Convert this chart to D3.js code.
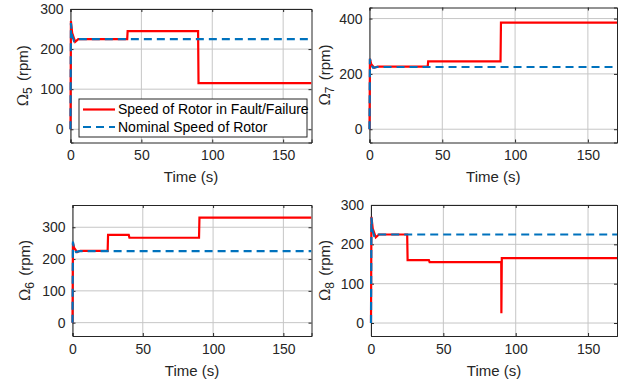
<!DOCTYPE html>
<html>
<head>
<meta charset="utf-8">
<script src="https://cdn.jsdelivr.net/npm/d3@7"></script>
<style>
  body { margin: 0; background: #fff; }
  svg { display: block; font-family: "Liberation Sans", Arial, Helvetica, sans-serif; }
</style>
</head>
<body>
<svg id="chart" width="624" height="386"></svg>
<script>
// ---------------- data ----------------
const timeTicks = [0, 50, 100, 150];
const timeDomain = [0, 170];

const ticks5 = [0, 100, 200, 300];
const ticks7 = [0, 200, 400];
const ticks6 = [0, 100, 200, 300];
const ticks8 = [0, 100, 200, 300];

const nominalTime = [0, 0.3, 1.0, 2.5, 5, 170];
const nominal5 = [0, 265, 235, 220, 225, 225];
const nominal7 = [0, 255, 232, 222, 225, 225];
const nominal6 = [0, 255, 232, 222, 225, 225];
const nominal8 = [0, 268, 235, 218, 225, 225];

const faultTime5 = [0, 0.3, 1.2, 3.3, 5.5, 40, 40.3, 90, 90.3, 170];
const fault5 = [0, 270, 240, 218, 225, 225, 245, 245, 115, 115];

const faultTime7 = [0, 0.3, 1.2, 3.3, 5.5, 40, 40.3, 90, 90.3, 170];
const fault7 = [0, 255, 235, 222, 226, 226, 245, 245, 385, 385];

const faultTime6 = [0, 0.3, 1.2, 3.3, 5.5, 25, 25.3, 40, 40.5, 90, 90.3, 170];
const fault6 = [0, 250, 235, 222, 226, 226, 276, 276, 267, 267, 330, 330];

const faultTime8 = [0, 0.3, 1.2, 3.3, 5.5, 25, 25.3, 40, 40.5, 90, 90.1, 90.4, 170];
const fault8 = [0, 270, 240, 218, 225, 225, 160, 160, 155, 155, 25, 165, 165];

const legendLabels = ["Speed of Rotor in Fault/Failure", "Nominal Speed of Rotor"];
const xLabel = "Time (s)";
const yLabelSub = ["5", "7", "6", "8"];

// ---------------- layout ----------------
const panels = [
  { x0: 70.5, x1: 311.5, y0: 9, y1: 142.5, yDomain: [-33, 300], ticks: ticks5, ft: faultTime5, fv: fault5, nv: nominal5, sub: yLabelSub[0], legend: true, ylx: 23, xly: 182 },
  { x0: 369.5, x1: 617, y0: 7.5, y1: 142.5, yDomain: [-48, 440], ticks: ticks7, ft: faultTime7, fv: fault7, nv: nominal7, sub: yLabelSub[1], legend: false, ylx: 325, xly: 182 },
  { x0: 72.5, x1: 311.5, y0: 205, y1: 336, yDomain: [-42, 370], ticks: ticks6, ft: faultTime6, fv: fault6, nv: nominal6, sub: yLabelSub[2], legend: false, ylx: 25, xly: 376 },
  { x0: 371, x1: 617, y0: 205, y1: 336, yDomain: [-33, 300], ticks: ticks8, ft: faultTime8, fv: fault8, nv: nominal8, sub: yLabelSub[3], legend: false, ylx: 325, xly: 376 }
];

const svg = d3.select("#chart");
const red = "#ff0000";
const blue = "#0072BD";
const axisColor = "#262626";
const gridColor = "#c6c6c6";
const fontSize = 14;

panels.forEach((p, i) => {
  const x = d3.scaleLinear().domain(timeDomain).range([p.x0, p.x1]);
  const y = d3.scaleLinear().domain(p.yDomain).range([p.y1, p.y0]);
  const g = svg.append("g");
  const clipId = "clip" + i;
  svg.append("clipPath").attr("id", clipId)
    .append("rect").attr("x", p.x0 - 2).attr("y", p.y0).attr("width", p.x1 - p.x0 + 2).attr("height", p.y1 - p.y0);

  // grid
  g.append("g").selectAll("line.vg").data(timeTicks).join("line")
    .attr("x1", d => x(d)).attr("x2", d => x(d)).attr("y1", p.y0).attr("y2", p.y1)
    .attr("stroke", gridColor).attr("stroke-width", 1);
  g.append("g").selectAll("line.hg").data(p.ticks).join("line")
    .attr("x1", p.x0).attr("x2", p.x1).attr("y1", d => y(d)).attr("y2", d => y(d))
    .attr("stroke", gridColor).attr("stroke-width", 1);

  // axes (ticks inward, all four sides)
  const bottom = d3.axisBottom(x).tickValues(timeTicks).tickSize(-3).tickPadding(8).tickFormat(d3.format("d"));
  const left = d3.axisLeft(y).tickValues(p.ticks).tickSize(-3).tickPadding(7).tickFormat(d3.format("d"));
  const top = d3.axisTop(x).tickValues(timeTicks).tickSize(-3).tickFormat("");
  const right = d3.axisRight(y).tickValues(p.ticks).tickSize(-3).tickFormat("");
  const styleAx = sel => {
    sel.selectAll("path").attr("stroke", axisColor).attr("stroke-width", 1);
    sel.selectAll("line").attr("stroke", axisColor);
    sel.selectAll("text").attr("fill", axisColor).style("font-size", fontSize + "px").style("font-family", "'Liberation Sans', Arial, sans-serif");
  };
  g.append("g").attr("transform", `translate(0,${p.y1})`).call(bottom).call(styleAx);
  g.append("g").attr("transform", `translate(${p.x0},0)`).call(left).call(styleAx);
  g.append("g").attr("transform", `translate(0,${p.y0})`).call(top).call(styleAx);
  g.append("g").attr("transform", `translate(${p.x1},0)`).call(right).call(styleAx);

  // lines (drawn over axes like MATLAB data)
  const line = d3.line().x(d => x(d[0])).y(d => y(d[1]));
  const faultData = p.ft.map((t, k) => [t, p.fv[k]]);
  const nomData = nominalTime.map((t, k) => [t, p.nv[k]]);
  const lg = g.append("g").attr("clip-path", `url(#${clipId})`);
  lg.append("path").datum(faultData).attr("d", line)
    .attr("fill", "none").attr("stroke", red).attr("stroke-width", 2.2).attr("stroke-linejoin", "miter");
  lg.append("path").datum(nomData).attr("d", line)
    .attr("fill", "none").attr("stroke", blue).attr("stroke-width", 2.2).attr("stroke-dasharray", "8,5");

  // x label
  g.append("text").attr("x", (p.x0 + p.x1) / 2).attr("y", p.xly)
    .attr("text-anchor", "middle").attr("fill", axisColor).style("font-size", "15px")
    .text(xLabel);

  // y label
  const yl = g.append("text")
    .attr("transform", `translate(${p.ylx},${(p.y0 + p.y1) / 2}) rotate(-90)`)
    .attr("text-anchor", "middle").attr("dy", "0.35em").attr("fill", axisColor).style("font-size", "15px");
  yl.append("tspan").style("font-family", "'DejaVu Serif', serif").style("font-size", "15px").text("Ω");
  yl.append("tspan").attr("baseline-shift", "-35%").style("font-size", "12px").text(p.sub);
  yl.append("tspan").attr("baseline-shift", "0%").attr("dx", "2").text(" (rpm)");

  // legend
  if (p.legend) {
    const lgG = g.append("g");
    const lx0 = 79, ly0 = 99, lw = 228, lh = 38;
    lgG.append("rect").attr("x", lx0).attr("y", ly0).attr("width", lw).attr("height", lh)
      .attr("fill", "#fff").attr("stroke", axisColor).attr("stroke-width", 1);
    const entries = [
      { label: legendLabels[0], color: red, dash: null },
      { label: legendLabels[1], color: blue, dash: "8,5" }
    ];
    entries.forEach((e, k) => {
      const yy = ly0 + 10.5 + k * 17.5;
      lgG.append("line").attr("x1", lx0 + 4).attr("x2", lx0 + 36).attr("y1", yy).attr("y2", yy)
        .attr("stroke", e.color).attr("stroke-width", 2.2).attr("stroke-dasharray", e.dash);
      lgG.append("text").attr("x", lx0 + 39).attr("y", yy).attr("dy", "0.35em")
        .attr("fill", "#000").style("font-size", fontSize + "px").text(e.label);
    });
  }
});
</script>
</body>
</html>
